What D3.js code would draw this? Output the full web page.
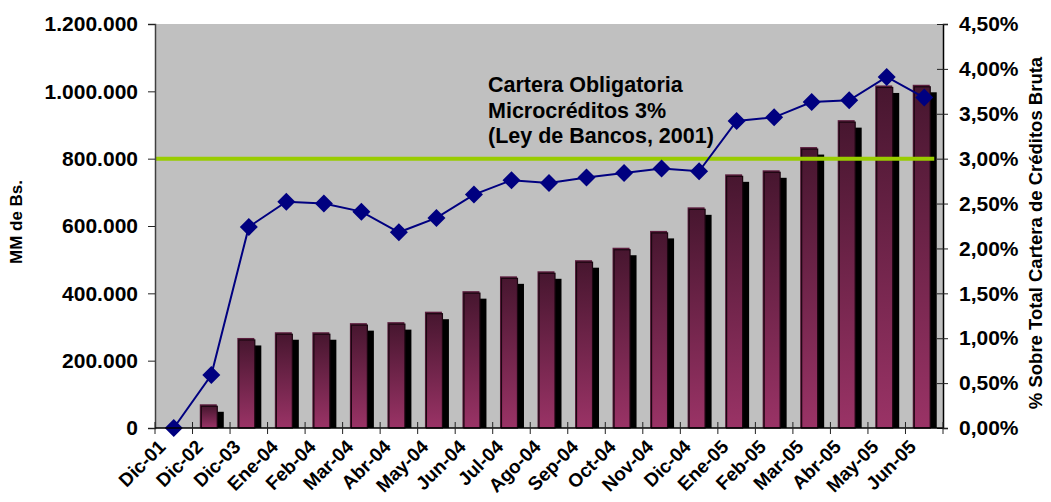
<!DOCTYPE html>
<html><head><meta charset="utf-8">
<script src="https://cdn.jsdelivr.net/npm/d3@7"></script>
<style>body{margin:0;background:#fff}svg{display:block}text{font-family:Arial,"Liberation Sans",sans-serif;font-weight:bold}</style>
</head><body><svg id="c" width="1051" height="502"></svg>
<script>
const categories = ["Dic-01","Dic-02","Dic-03","Ene-04","Feb-04","Mar-04","Abr-04","May-04","Jun-04","Jul-04","Ago-04","Sep-04","Oct-04","Nov-04","Dic-04","Ene-05","Feb-05","Mar-05","Abr-05","May-05","Jun-05"];
const montos = [0,66000,263000,280000,280000,307000,310000,341000,402000,446000,461000,494000,531000,581000,651000,749000,761000,830000,910000,1013000,1015000];
const porcentajes = [0.0000,0.0059,0.0224,0.0252,0.0250,0.0241,0.0218,0.0234,0.0260,0.0276,0.0273,0.0279,0.0284,0.0289,0.0286,0.0342,0.0346,0.0363,0.0365,0.0391,0.0368];
const leftTicks = [0,200000,400000,600000,800000,1000000,1200000];
const rightTicks = [0,0.005,0.01,0.015,0.02,0.025,0.03,0.035,0.04,0.045];
const cartera = 0.03;
const annotation = ["Cartera Obligatoria","Microcréditos 3%","(Ley de Bancos, 2001)"];
const leftTitle = "MM de Bs.";
const rightTitle = "% Sobre Total Cartera de Créditos Bruta";

const L=155,R=943,T=24,B=428;
const svg=d3.select("#c");
const loc=d3.formatLocale({decimal:",",thousands:".",grouping:[3],currency:["",""]});
const x=d3.scaleBand().domain(categories).range([L,R]).padding(0);
const yL=d3.scaleLinear().domain([0,1200000]).range([B,T]);
const yR=d3.scaleLinear().domain([0,0.045]).range([B,T]);
const cx=d=>x(d)+x.bandwidth()/2;

const defs=svg.append("defs");
const g=defs.append("linearGradient").attr("id","bg").attr("x1",0).attr("y1",0).attr("x2",0).attr("y2",1);
g.append("stop").attr("offset","0%").attr("stop-color","#47162F");
g.append("stop").attr("offset","100%").attr("stop-color","#9A3366");

svg.append("rect").attr("x",L).attr("y",T).attr("width",R-L).attr("height",B-T).attr("fill","#C0C0C0");

const bw=17;
const bars=svg.append("g");
categories.forEach((c,i)=>{
  const v=montos[i]; if(v<=0) return;
  const bx=cx(c)-10.5, by=yL(v), bh=B-yL(v);
  bars.append("rect").attr("x",bx+6).attr("y",by+6).attr("width",bw).attr("height",Math.max(0,bh-6)).attr("fill","#000");
  bars.append("rect").attr("x",bx-1).attr("y",by-1.5).attr("width",bw).attr("height",bh+1.5).attr("fill","#5B1D3D");
  bars.append("rect").attr("x",bx+0.5).attr("y",by+0.5).attr("width",bw-1).attr("height",bh-0.5).attr("fill","url(#bg)").attr("stroke","#1a0610").attr("stroke-width",1.2);
});

svg.append("line").attr("x1",L).attr("x2",cx(categories[categories.length-1])+10).attr("y1",yR(cartera)).attr("y2",yR(cartera)).attr("stroke","#99CC00").attr("stroke-width",4);

const line=d3.line().x((d,i)=>cx(categories[i])).y(d=>yR(d));
svg.append("path").datum(porcentajes).attr("d",line).attr("fill","none").attr("stroke","#000080").attr("stroke-width",2);
const dm=9;
svg.append("g").selectAll("path").data(porcentajes).join("path")
  .attr("d",(d,i)=>{const px=cx(categories[i]),py=yR(d);return `M${px},${py-dm}L${px+dm},${py}L${px},${py+dm}L${px-dm},${py}Z`;})
  .attr("fill","#000080");

// annotation
const at=svg.append("text").attr("x",488).attr("y",92).attr("font-size",21.5).attr("fill","#000");
annotation.forEach((t,i)=>at.append("tspan").attr("x",488).attr("y",92+i*25.5).text(t));

// left axis
const la=svg.append("g").attr("transform",`translate(${L},0)`).call(d3.axisLeft(yL).tickValues(leftTicks).tickFormat(loc.format(",d")).tickSize(7).tickPadding(10));
la.select(".domain").attr("stroke","#404040").attr("stroke-width",1.5);
la.selectAll(".tick line").attr("stroke","#222");
la.selectAll("text").attr("font-size",21).attr("fill","#000").attr("font-family","Arial,'Liberation Sans',sans-serif");

// right axis
const ra=svg.append("g").attr("transform",`translate(${R},0)`).call(d3.axisRight(yR).tickValues(rightTicks).tickFormat(loc.format(".2%")).tickSize(5).tickPadding(11));
ra.selectAll(".tick line").attr("x1",-6).attr("stroke","#222");
ra.select(".domain").attr("stroke","#000").attr("stroke-width",1.5);
ra.selectAll("text").attr("font-size",21).attr("fill","#000").attr("font-family","Arial,'Liberation Sans',sans-serif");

// x axis
const xa=svg.append("g").attr("transform",`translate(0,${B})`);
xa.append("line").attr("x1",L).attr("x2",R).attr("stroke","#000").attr("stroke-width",1.5);
const bounds=categories.map(c=>x(c)).concat([R]);
xa.selectAll("line.t").data(bounds).join("line").attr("class","t").attr("x1",d=>d).attr("x2",d=>d).attr("y1",-6).attr("y2",6).attr("stroke","#222");
xa.selectAll("text").data(categories).join("text")
  .attr("transform",d=>`translate(${cx(d)-7},${20}) rotate(-45)`)
  .attr("text-anchor","end").attr("font-size",19).attr("fill","#000").text(d=>d);

svg.append("text").attr("transform","translate(22,222) rotate(-90)").attr("text-anchor","middle").attr("font-size",17).text(leftTitle);
svg.append("text").attr("transform","translate(1042,233) rotate(-90)").attr("text-anchor","middle").attr("font-size",18.5).text(rightTitle);
</script></body></html>
